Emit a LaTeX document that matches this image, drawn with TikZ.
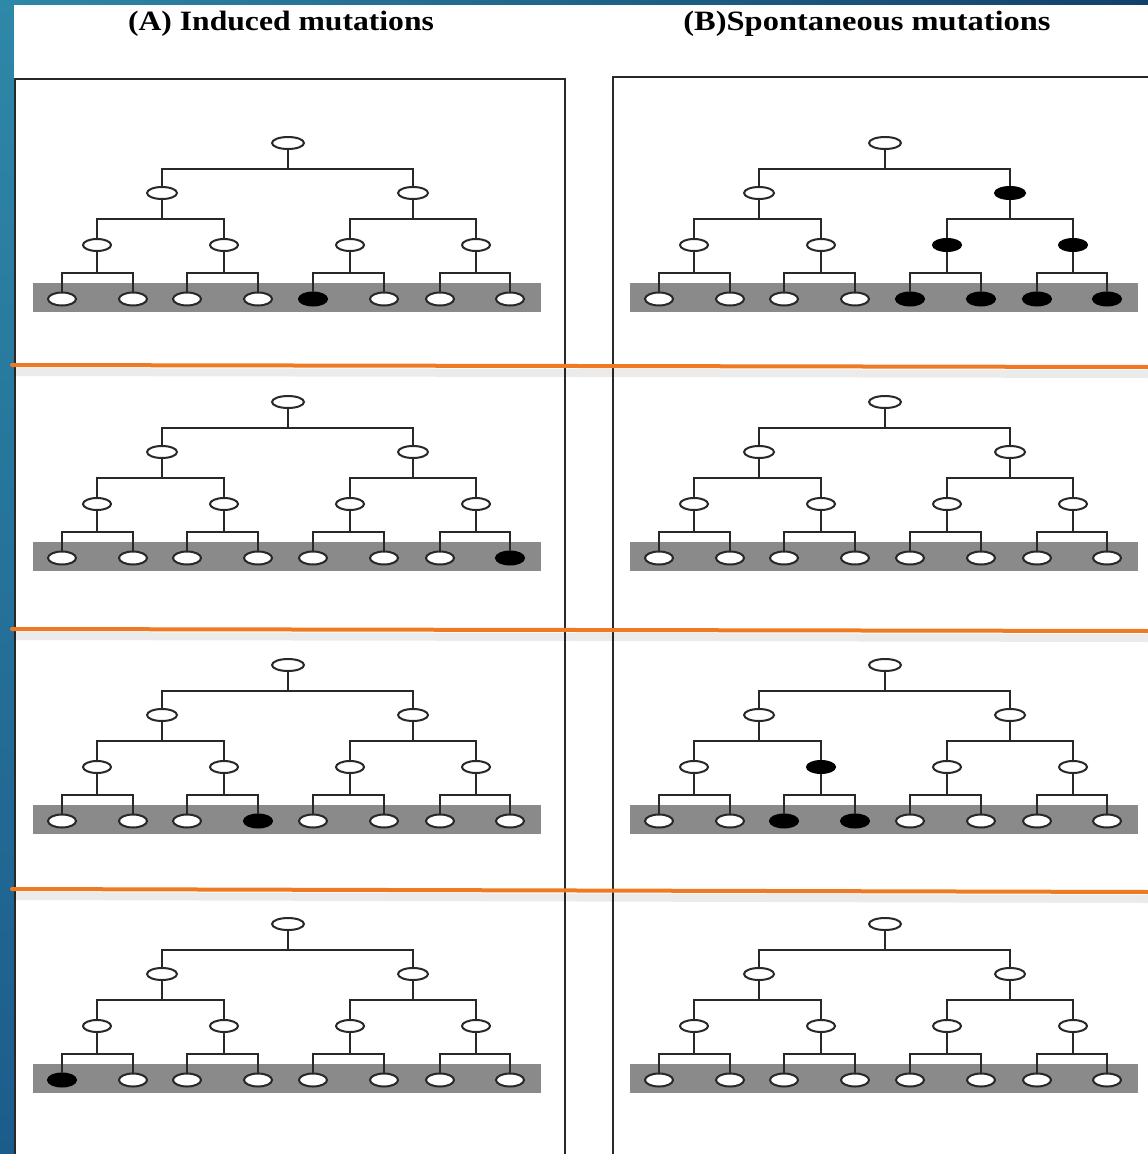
\documentclass[tikz,border=0pt]{standalone}
\usepackage{fontspec}
\setmainfont{Liberation Serif}
\usetikzlibrary{shapes.geometric}
\definecolor{orng}{RGB}{238,122,36}
\definecolor{bandgray}{RGB}{138,138,138}
\definecolor{teal1}{RGB}{46,136,168}
\definecolor{navy1}{RGB}{18,64,108}
\definecolor{blue2}{RGB}{28,92,140}
\definecolor{linegray}{RGB}{40,40,40}
\newcommand\drawtree[3]{%
 \begin{scope}[shift={(#2,#3)}]
  \fill[bandgray] (33,140) rectangle (541,169);
  \coordinate (#1-b1) at (0,26);
  \coordinate (#1-b2) at (0,76);
  \coordinate (#1-b3) at (0,130);
  \node[nd,minimum width=32pt,fr] (#1-r) at (288,0) {};
  \node[nd,minimum width=30pt,fa] (#1-a) at (162,50) {};
  \node[nd,minimum width=30pt,fb] (#1-b) at (413,50) {};
  \node[nd,faa] (#1-aa) at (97,102) {};
  \node[nd,fab] (#1-ab) at (224,102) {};
  \node[nd,fba] (#1-ba) at (350,102) {};
  \node[nd,fbb] (#1-bb) at (476,102) {};
  \node[leaf,fl1] (#1-l1) at (62,156) {};
  \node[leaf,fl2] (#1-l2) at (133,156) {};
  \node[leaf,fl3] (#1-l3) at (187,156) {};
  \node[leaf,fl4] (#1-l4) at (258,156) {};
  \node[leaf,fl5] (#1-l5) at (313,156) {};
  \node[leaf,fl6] (#1-l6) at (384,156) {};
  \node[leaf,fl7] (#1-l7) at (440,156) {};
  \node[leaf,fl8] (#1-l8) at (510,156) {};
  \draw[conn] (#1-r) -- (#1-r |- #1-b1) -| (#1-a);
  \draw[conn] (#1-r) -- (#1-r |- #1-b1) -| (#1-b);
  \draw[conn] (#1-a) -- (#1-a |- #1-b2) -| (#1-aa);
  \draw[conn] (#1-a) -- (#1-a |- #1-b2) -| (#1-ab);
  \draw[conn] (#1-b) -- (#1-b |- #1-b2) -| (#1-ba);
  \draw[conn] (#1-b) -- (#1-b |- #1-b2) -| (#1-bb);
  \draw[conn] (#1-aa) -- (#1-aa |- #1-b3) -| (#1-l1);
  \draw[conn] (#1-aa) -- (#1-aa |- #1-b3) -| (#1-l2);
  \draw[conn] (#1-ab) -- (#1-ab |- #1-b3) -| (#1-l3);
  \draw[conn] (#1-ab) -- (#1-ab |- #1-b3) -| (#1-l4);
  \draw[conn] (#1-ba) -- (#1-ba |- #1-b3) -| (#1-l5);
  \draw[conn] (#1-ba) -- (#1-ba |- #1-b3) -| (#1-l6);
  \draw[conn] (#1-bb) -- (#1-bb |- #1-b3) -| (#1-l7);
  \draw[conn] (#1-bb) -- (#1-bb |- #1-b3) -| (#1-l8);
 \end{scope}}
\begin{document}
\begin{tikzpicture}[x=1pt,y=-1pt,
  nd/.style={ellipse,draw=linegray,line width=2pt,fill=white,minimum width=28pt,minimum height=12pt,inner sep=0pt},
  leaf/.style={nd,minimum width=28pt,minimum height=13pt},
  mut/.style={fill=black,draw=black},
  conn/.style={draw=linegray,line width=1.8pt},
  panel/.style={draw=linegray,line width=2pt},
  sep/.style={draw=orng,line width=4pt,line cap=round},
  sepshadow/.style={draw=black,opacity=0.08,line width=8pt},
  title/.style={font=\bfseries\fontsize{28}{28}\selectfont,inner sep=0pt},
  fr/.style={},fa/.style={},fb/.style={},faa/.style={},fab/.style={},fba/.style={},fbb/.style={},
  fl1/.style={},fl2/.style={},fl3/.style={},fl4/.style={},fl5/.style={},fl6/.style={},fl7/.style={},fl8/.style={}]
\useasboundingbox (0,0) rectangle (1148,1154);
\clip (0,0) rectangle (1148,1154);
% background
\shade[top color=teal1,bottom color=blue2] (0,0) rectangle (14,1154);
\shade[left color=teal1,right color=navy1] (0,0) rectangle (1148,5);
\fill[white] (14,5) rectangle (1148,1154);
% titles
\node[title,xscale=1.13] (tA) at (281,24) {(A) Induced mutations};
\node[title,xscale=1.16] (tB) at (867,24) {(B)Spontaneous mutations};
% panels
\draw[panel] (15,1160) -- (15,79) -- (565,79) -- (565,1160);
\draw[panel] (613,1160) -- (613,77) -- (1152,77);
% trees
\begin{scope}[fl5/.style={mut}] \drawtree{A1}{0}{143} \end{scope}
\begin{scope}[fb/.style={mut},fba/.style={mut},fbb/.style={mut},fl5/.style={mut},fl6/.style={mut},fl7/.style={mut},fl8/.style={mut}] \drawtree{B1}{597}{143} \end{scope}
\begin{scope}[fl8/.style={mut}] \drawtree{A2}{0}{402} \end{scope}
\begin{scope} \drawtree{B2}{597}{402} \end{scope}
\begin{scope}[fl4/.style={mut}] \drawtree{A3}{0}{665} \end{scope}
\begin{scope}[fab/.style={mut},fl3/.style={mut},fl4/.style={mut}] \drawtree{B3}{597}{665} \end{scope}
\begin{scope}[fl1/.style={mut}] \drawtree{A4}{0}{924} \end{scope}
\begin{scope} \drawtree{B4}{597}{924} \end{scope}
% orange separators
\draw[sepshadow] (14,372) -- (1148,374);
\draw[sep] (12,365) -- (1150,367);
\draw[sepshadow] (14,636) -- (1148,638);
\draw[sep] (12,629) -- (1150,631);
\draw[sepshadow] (14,896) -- (1148,899);
\draw[sep] (12,889) -- (1150,892);
\end{tikzpicture}
\end{document}
